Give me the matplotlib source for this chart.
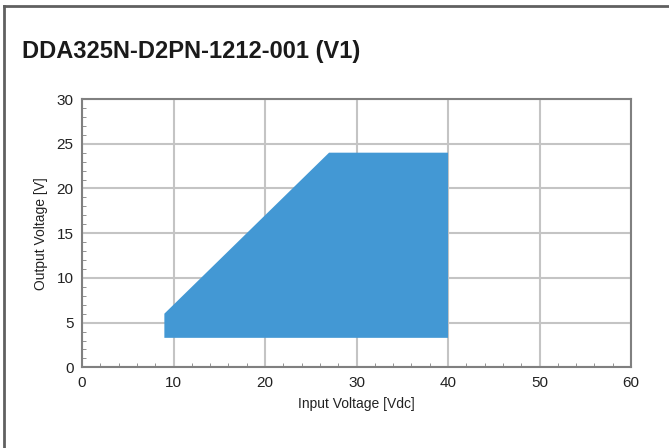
import matplotlib.pyplot as plt
from matplotlib.ticker import MultipleLocator
from matplotlib.lines import Line2D

plt.rcParams['font.family'] = ['Liberation Sans', 'DejaVu Sans']

# safe operating area corners
vin = [9, 9, 27, 40, 40]
vout = [3.3, 6, 24, 24, 3.3]

x_ticks = [0, 10, 20, 30, 40, 50, 60]
y_ticks = [0, 5, 10, 15, 20, 25, 30]

fig = plt.figure(figsize=(6.69, 4.48), dpi=100)
ax = fig.add_axes([0.1226, 0.180, 0.8206, 0.599])

ax.fill(vin, vout, color='#4398d4', lw=0, zorder=3)

ax.set_xlim(0, 60)
ax.set_ylim(0, 30)
ax.set_xticks(x_ticks)
ax.set_yticks(y_ticks)
ax.xaxis.set_minor_locator(MultipleLocator(2))
ax.yaxis.set_minor_locator(MultipleLocator(1))
ax.tick_params(which='major', length=0, labelsize=11, colors='#222222', pad=6)
ax.tick_params(which='minor', direction='in', length=3, color='#808080')
ax.grid(True, which='major', color='#c4c4c4', lw=1.5, zorder=0)
ax.set_axisbelow(True)
for s in ax.spines.values():
    s.set_color('#808080')
    s.set_linewidth(1.5)

ax.set_xlabel('Input Voltage [Vdc]', fontsize=10, color='#222222', labelpad=5)
ax.set_ylabel('Output Voltage [V]', fontsize=10, color='#222222', labelpad=6)

fig.text(0.033, 0.886, 'DDA325N-D2PN-1212-001 (V1)', fontsize=17, fontweight='bold',
         color='#1a1a1a', va='center', ha='left')

# frame lines of the crop
fig.add_artist(Line2D([0.0066, 0.0066], [0, 0.987], color='#606060', lw=2, transform=fig.transFigure))
fig.add_artist(Line2D([0.0066, 1], [0.987, 0.987], color='#606060', lw=2, transform=fig.transFigure))

fig.savefig('out.png', dpi=100)
